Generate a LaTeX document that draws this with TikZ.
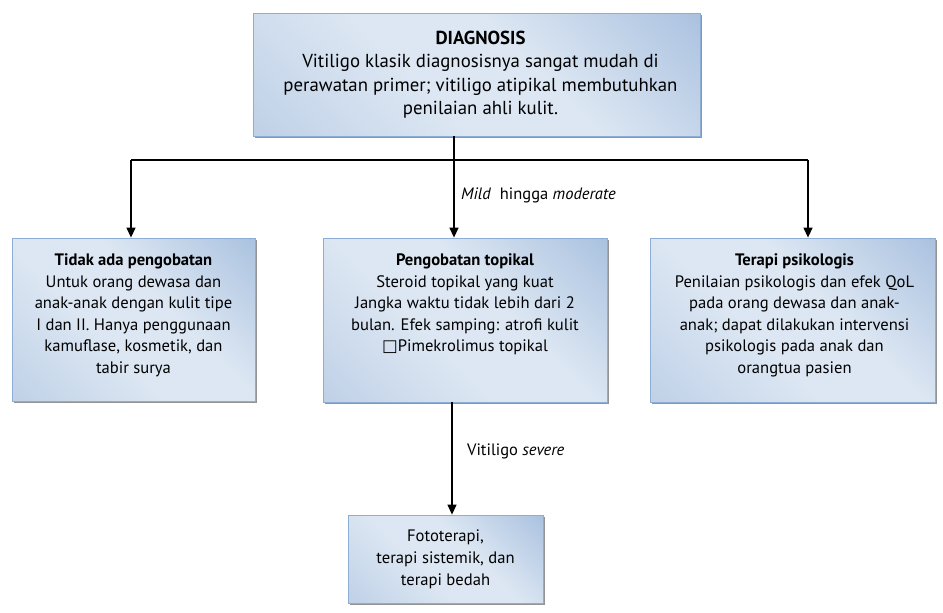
\documentclass[tikz,border=0pt]{standalone}
\usepackage{fontspec}
\setmainfont{PT Sans}
\newfontfamily\dejavu{DejaVu Sans}
\usetikzlibrary{arrows.meta,shadows}
\definecolor{shB}{HTML}{AFC5E1}
\definecolor{shM}{HTML}{DDE7F3}
\definecolor{shT}{HTML}{8FAED5}
\definecolor{boxline}{HTML}{8EADD4}
\pgfdeclareverticalshading{boxshade}{100bp}{color(0bp)=(shB); color(42bp)=(shM); color(58bp)=(shM); color(100bp)=(shT)}
\begin{document}
\begin{tikzpicture}[x=1pt,y=-1pt,
  boxshape/.style={rectangle, inner sep=0pt, draw=boxline, line width=0.8pt,
    shading=boxshade, shading angle=-45,
    drop shadow={shadow xshift=2pt, shadow yshift=-2pt, fill=black!60, opacity=0.7}},
  boxtext/.style={anchor=north, align=center, inner sep=0pt, font=\fontsize{16.6}{21.5}\selectfont},
  toptext/.style={anchor=north, align=center, inner sep=0pt, font=\fontsize{18.8}{23.5}\selectfont},
  edgelabel/.style={anchor=west, inner sep=0pt, font=\fontsize{16.5}{18}\selectfont},
  conn/.style={line width=1.3pt, draw=black},
  arr/.style={conn, -{Triangle[length=10pt,width=9pt]}}]
\useasboundingbox (0,0) rectangle (943,613);
% boxes
\node[boxshape, minimum width=447pt, minimum height=123pt] (diag) at (476.5,74.5) {};
\node[boxshape, minimum width=243pt, minimum height=163pt] (left) at (133.5,319.5) {};
\node[boxshape, minimum width=284pt, minimum height=164pt] (mid) at (465,320) {};
\node[boxshape, minimum width=285pt, minimum height=164pt] (right) at (792.5,320) {};
\node[boxshape, minimum width=195pt, minimum height=88pt] (bot) at (445.5,559) {};
% texts
\node[toptext] (diagtext) at ([xshift=4pt,yshift=-18pt]diag.north) {\textbf{DIAGNOSIS}\\Vitiligo klasik diagnosisnya sangat mudah di\\perawatan primer; vitiligo atipikal membutuhkan\\penilaian ahli kulit.};
\node[boxtext] (lefttext) at ([yshift=-16pt]left.north) {\textbf{Tidak ada pengobatan}\\Untuk orang dewasa dan\\anak-anak dengan kulit tipe\\I dan II. Hanya penggunaan\\kamuflase, kosmetik, dan\\tabir surya};
\node[boxtext] (midtext) at ([yshift=-16pt]mid.north) {\textbf{Pengobatan topikal}\\Steroid topikal yang kuat\\Jangka waktu tidak lebih dari 2\\bulan. Efek samping: atrofi kulit\\{\dejavu □}Pimekrolimus topikal};
\node[boxtext] (righttext) at ([xshift=2pt,yshift=-16pt]right.north) {\textbf{Terapi psikologis}\\Penilaian psikologis dan efek QoL\\pada orang dewasa dan anak-\\anak; dapat dilakukan intervensi\\psikologis pada anak dan\\orangtua pasien};
\node[boxtext, anchor=center, font=\fontsize{16.6}{22}\selectfont] (bottext) at (bot.center) {Fototerapi,\\terapi sistemik, dan\\terapi bedah};
% connectors
\coordinate (jm) at (454,160);
\coordinate (jl) at (131,160);
\coordinate (jr) at (808,160);
\coordinate (bm) at (452,0);
\draw[conn] (diag.south -| jm) -- (jm);
\draw[conn] (jl) -- (jr);
\draw[arr] (jl) -- (left.north -| jl);
\draw[arr] (jm) -- (mid.north -| jm);
\draw[arr] (jr) -- (right.north -| jr);
\draw[arr] (mid.south -| bm) -- (bot.north -| bm);
% labels
\node[edgelabel] (lblmild) at (461,195) {\textit{Mild}\ \ hingga \textit{moderate}};
\node[edgelabel] (lblsev) at (467,451) {Vitiligo \textit{severe}};
\end{tikzpicture}
\end{document}
